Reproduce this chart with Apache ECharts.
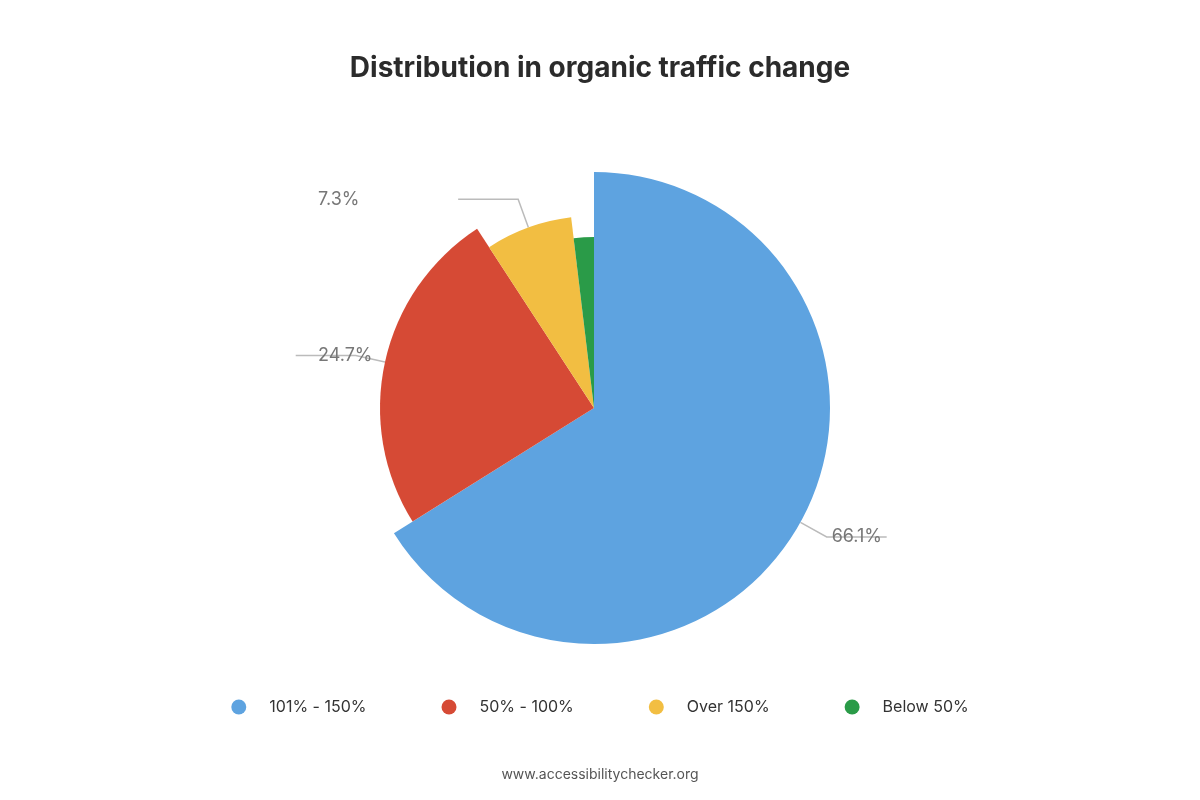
<!DOCTYPE html>
<html>
<head>
<meta charset="utf-8">
<script src="https://cdn.jsdelivr.net/npm/echarts@6/dist/echarts.min.js"></script>
<style>
  html, body { margin: 0; padding: 0; background: #fff; }
  #chart { width: 1200px; height: 800px; }
</style>
</head>
<body>
<div id="chart"></div>
<script>
const categories = ['101% - 150%', '50% - 100%', 'Over 150%', 'Below 50%'];
const values = [66.1, 24.7, 7.3, 1.9];
const labelTexts = ['66.1%', '24.7%', '7.3%', '1,9%'];
const colors = ['#5EA3E0', '#D64A35', '#F2BE42', '#2A9B48'];
const radii = [236, 214, 192, 171];

const chart = echarts.init(document.getElementById('chart'));

// one series per slice so each slice gets its own radius
const series = categories.map((name, k) => ({
  name: 'ring' + k,
  type: 'pie',
  center: [594, 408],
  radius: [0, radii[k]],
  startAngle: 90,
  clockwise: true,
  avoidLabelOverlap: false,
  animation: false,
  silent: true,
  label: {
    alignTo: 'edge',
    edgeDistance: 318,
    fontFamily: 'Inter',
    fontSize: 18,
    color: '#777'
  },
  labelLine: { length: 30, length2: 60, lineStyle: { color: '#bbb', width: 1.5 } },
  data: categories.map((c, i) => ({
    name: c,
    value: values[i],
    itemStyle: { color: i === k ? colors[i] : 'transparent' },
    label: { show: i === k, formatter: labelTexts[i] },
    labelLine: { show: i === k }
  }))
}));

chart.setOption({
  backgroundColor: '#fff',
  title: [
    {
      text: 'Distribution in organic traffic change',
      left: 'center',
      top: 50,
      textStyle: { fontFamily: 'Inter', fontSize: 28, fontWeight: 'bold', color: '#2b2b2b' }
    },
    {
      text: 'www.accessibilitychecker.org',
      left: 'center',
      top: 763,
      textStyle: { fontFamily: 'Inter', fontSize: 14, fontWeight: 'normal', color: '#555' }
    }
  ],
  legend: {
    data: categories.map((c, i) => ({ name: c, itemStyle: { color: colors[i] } })),
    bottom: 80,
    left: 'center',
    icon: 'circle',
    itemWidth: 15,
    itemHeight: 15,
    itemGap: 75,
    selectedMode: false,
    textStyle: { fontFamily: 'Inter', fontSize: 16, color: '#333', padding: [0, 0, 0, 18], width: 90 }
  },
  series: series
});
</script>
</body>
</html>
